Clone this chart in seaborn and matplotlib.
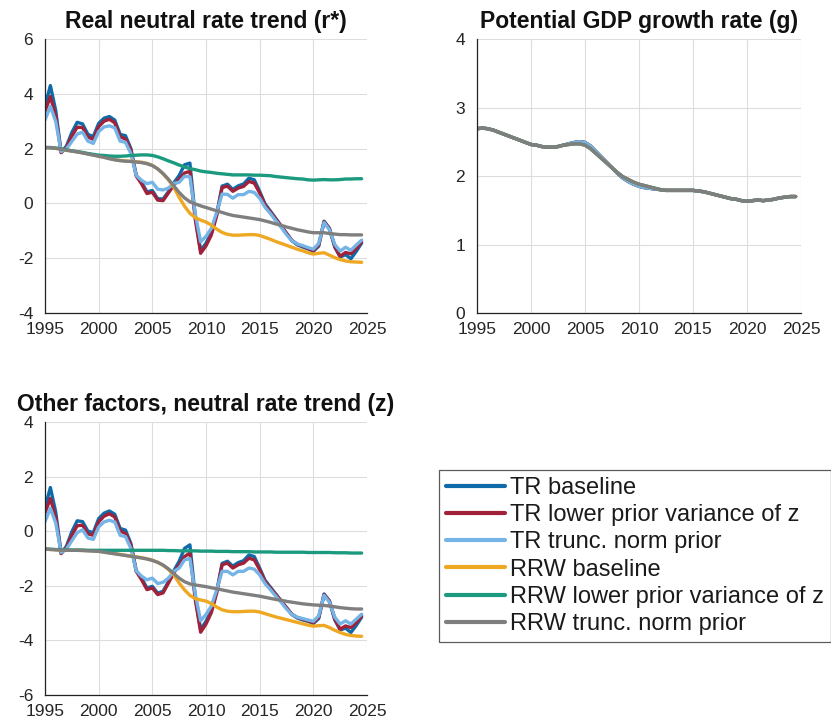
import numpy as np
import pandas as pd
import matplotlib
matplotlib.use("Agg")
import matplotlib.pyplot as plt
import seaborn as sns

# Semiannual observation dates, 1995H1 .. 2024H2
dates = np.arange(1995.0, 2024.51, 0.5)

# Potential GDP growth rate (g), percent
g_tr = [2.69, 2.70, 2.69, 2.67, 2.64, 2.61, 2.58, 2.55, 2.52, 2.49,
        2.46, 2.45, 2.43, 2.42, 2.42, 2.43, 2.45, 2.47, 2.49, 2.50,
        2.49, 2.44, 2.36, 2.28, 2.20, 2.12, 2.04, 1.97, 1.92, 1.88,
        1.85, 1.83, 1.82, 1.81, 1.80, 1.79, 1.79, 1.79, 1.79, 1.79,
        1.79, 1.78, 1.77, 1.75, 1.73, 1.71, 1.69, 1.67, 1.66, 1.64,
        1.63, 1.64, 1.65, 1.64, 1.65, 1.66, 1.68, 1.69, 1.70, 1.70]
g_rrw = [2.69, 2.70, 2.69, 2.67, 2.64, 2.61, 2.58, 2.55, 2.52, 2.49,
         2.46, 2.45, 2.43, 2.42, 2.42, 2.43, 2.45, 2.46, 2.47, 2.47,
         2.45, 2.40, 2.33, 2.26, 2.19, 2.12, 2.05, 1.99, 1.95, 1.91,
         1.88, 1.86, 1.84, 1.82, 1.80, 1.79, 1.79, 1.79, 1.79, 1.79,
         1.79, 1.78, 1.77, 1.75, 1.73, 1.71, 1.69, 1.67, 1.66, 1.64,
         1.63, 1.64, 1.65, 1.64, 1.65, 1.66, 1.68, 1.69, 1.70, 1.70]

# Other factors, neutral rate trend (z), percent
z_tr_base = [0.85, 1.60, 0.70, -0.80, -0.55, -0.02, 0.38, 0.35, 0.00, -0.05,
             0.46, 0.66, 0.74, 0.62, 0.10, 0.04, -0.45, -1.45, -1.72, -2.08,
             -2.02, -2.27, -2.20, -1.85, -1.45, -1.10, -0.63, -0.50, -2.40, -3.60,
             -3.30, -2.90, -2.20, -1.18, -1.10, -1.28, -1.15, -1.08, -0.87, -0.93,
             -1.35, -1.80, -2.05, -2.30, -2.55, -2.80, -3.05, -3.18, -3.25, -3.30,
             -3.38, -3.20, -2.30, -2.55, -3.25, -3.62, -3.55, -3.71, -3.45, -3.15]
z_tr_lowvar = [0.67, 1.20, 0.50, -0.82, -0.60, -0.15, 0.20, 0.22, -0.10, -0.15,
               0.34, 0.55, 0.64, 0.52, 0.01, -0.08, -0.50, -1.47, -1.78, -2.14,
               -2.08, -2.32, -2.26, -1.90, -1.53, -1.23, -0.93, -0.80, -2.50, -3.70,
               -3.40, -2.98, -2.26, -1.23, -1.17, -1.35, -1.23, -1.17, -0.99, -1.05,
               -1.41, -1.84, -2.08, -2.32, -2.56, -2.80, -3.04, -3.16, -3.22, -3.28,
               -3.35, -3.16, -2.32, -2.56, -3.22, -3.59, -3.47, -3.53, -3.35, -3.10]
z_tr_trunc = [0.35, 0.84, 0.30, -0.78, -0.65, -0.35, -0.05, 0.05, -0.25, -0.30,
              0.16, 0.34, 0.40, 0.34, -0.15, -0.20, -0.63, -1.45, -1.65, -1.78,
              -1.72, -1.92, -1.87, -1.72, -1.47, -1.35, -1.05, -1.00, -2.30, -3.28,
              -3.05, -2.74, -2.14, -1.47, -1.47, -1.60, -1.47, -1.47, -1.35, -1.39,
              -1.60, -1.92, -2.14, -2.38, -2.60, -2.85, -3.05, -3.15, -3.20, -3.25,
              -3.30, -3.10, -2.35, -2.60, -3.15, -3.40, -3.28, -3.40, -3.22, -3.04]
z_rrw_base = [-0.65, -0.67, -0.68, -0.69, -0.70, -0.70, -0.70, -0.70, -0.71, -0.72,
              -0.73, -0.76, -0.79, -0.82, -0.85, -0.88, -0.91, -0.94, -0.97, -1.01,
              -1.06, -1.14, -1.25, -1.40, -1.60, -1.90, -2.15, -2.35, -2.47, -2.52,
              -2.56, -2.65, -2.78, -2.88, -2.93, -2.95, -2.95, -2.94, -2.93, -2.93,
              -2.96, -3.02, -3.08, -3.14, -3.19, -3.24, -3.29, -3.34, -3.39, -3.44,
              -3.48, -3.46, -3.45, -3.53, -3.63, -3.71, -3.78, -3.82, -3.84, -3.85]
z_rrw_lowvar = [-0.65, -0.66, -0.67, -0.68, -0.68, -0.69, -0.69, -0.69, -0.70, -0.70,
                -0.70, -0.70, -0.70, -0.70, -0.70, -0.70, -0.70, -0.70, -0.70, -0.70,
                -0.70, -0.70, -0.70, -0.71, -0.71, -0.72, -0.72, -0.72, -0.72, -0.73,
                -0.73, -0.73, -0.74, -0.74, -0.74, -0.75, -0.75, -0.75, -0.75, -0.76,
                -0.76, -0.76, -0.76, -0.77, -0.77, -0.77, -0.77, -0.77, -0.77, -0.78,
                -0.78, -0.78, -0.78, -0.78, -0.79, -0.79, -0.79, -0.80, -0.80, -0.80]
z_rrw_trunc = [-0.65, -0.67, -0.68, -0.69, -0.70, -0.70, -0.70, -0.71, -0.72, -0.73,
               -0.74, -0.77, -0.80, -0.83, -0.86, -0.89, -0.92, -0.95, -0.98, -1.02,
               -1.07, -1.14, -1.24, -1.38, -1.55, -1.72, -1.85, -1.93, -1.97, -2.00,
               -2.03, -2.07, -2.11, -2.15, -2.19, -2.23, -2.26, -2.29, -2.32, -2.35,
               -2.38, -2.42, -2.46, -2.50, -2.53, -2.57, -2.60, -2.63, -2.66, -2.68,
               -2.70, -2.71, -2.72, -2.74, -2.77, -2.80, -2.82, -2.84, -2.85, -2.85]

series_names = ["TR baseline", "TR lower prior variance of z", "TR trunc. norm prior",
                "RRW baseline", "RRW lower prior variance of z", "RRW trunc. norm prior"]
series_colors = ["#0E6BA8", "#A2213A", "#74B4E6", "#EEA822", "#1B9A80", "#7F7F7F"]
z_series = [z_tr_base, z_tr_lowvar, z_tr_trunc, z_rrw_base, z_rrw_lowvar, z_rrw_trunc]
g_series = [g_tr, g_tr, g_tr, g_rrw, g_rrw, g_rrw]

frames = []
for name, z, g in zip(series_names, z_series, g_series):
    frames.append(pd.DataFrame({"date": dates, "series": name,
                                "g": np.asarray(g), "z": np.asarray(z)}))
df = pd.concat(frames, ignore_index=True)
# Real neutral rate trend is the sum of growth and other factors
df["rstar"] = df["g"] + df["z"]

palette = dict(zip(series_names, series_colors))

sns.set_theme(style="white")
plt.rcParams["font.family"] = ["Liberation Sans", "DejaVu Sans"]
plt.rcParams["axes.unicode_minus"] = False

W, H = 831, 726
fig = plt.figure(figsize=(W / 100, H / 100), dpi=100)


def axes_px(x0, y0, x1, y1):
    return fig.add_axes([x0 / W, 1 - y1 / H, (x1 - x0) / W, (y1 - y0) / H])


ax_r = axes_px(45, 39, 367, 313)
ax_g = axes_px(477, 39, 801, 313)
ax_z = axes_px(45, 422, 367, 695)

panels = [
    (ax_r, "rstar", "Real neutral rate trend (r*)", (-4, 6), np.arange(-4, 7, 2)),
    (ax_g, "g", "Potential GDP growth rate (g)", (0, 4), np.arange(0, 5, 1)),
    (ax_z, "z", "Other factors, neutral rate trend (z)", (-6, 4), np.arange(-6, 5, 2)),
]

for ax, col, title, ylim, yticks in panels:
    sns.lineplot(data=df, x="date", y=col, hue="series", hue_order=series_names,
                 palette=palette, estimator=None, sort=False, linewidth=2.4,
                 legend=False, ax=ax)
    ax.set_xlim(1995, 2025)
    ax.set_ylim(*ylim)
    ax.set_xticks(np.arange(1995, 2026, 5))
    ax.set_yticks(yticks)
    ax.set_xlabel("")
    ax.set_ylabel("")
    ax.grid(True, color="#dddddd", linewidth=0.8)
    ax.set_axisbelow(True)
    for side in ("top", "right"):
        ax.spines[side].set_visible(False)
    for side in ("left", "bottom"):
        ax.spines[side].set_color("#222222")
        ax.spines[side].set_linewidth(0.9)
    ax.tick_params(direction="in", length=3, width=0.8, colors="#222222",
                   labelsize=12.5, labelcolor="#262626")
    ax.tick_params(axis="x", pad=6.5)
    ax.tick_params(axis="y", pad=8.5)
    ax.set_title(title, fontsize=16.5, fontweight="bold", color="#111111", pad=8)

handles = [plt.Line2D([], [], color=c, linewidth=3) for c in series_colors]
leg = fig.legend(handles, series_names, loc="upper left",
                 bbox_to_anchor=(439 / W, 1 - 470 / H), borderaxespad=0,
                 fontsize=17, frameon=True, fancybox=False, handlelength=2.5,
                 handletextpad=0.2, labelspacing=0.22, borderpad=0.3)
leg.get_frame().set_edgecolor("#333333")
leg.get_frame().set_linewidth(0.9)
for t in leg.get_texts():
    t.set_color("#1a1a1a")

fig.savefig("out.png", dpi=100, facecolor="white")
